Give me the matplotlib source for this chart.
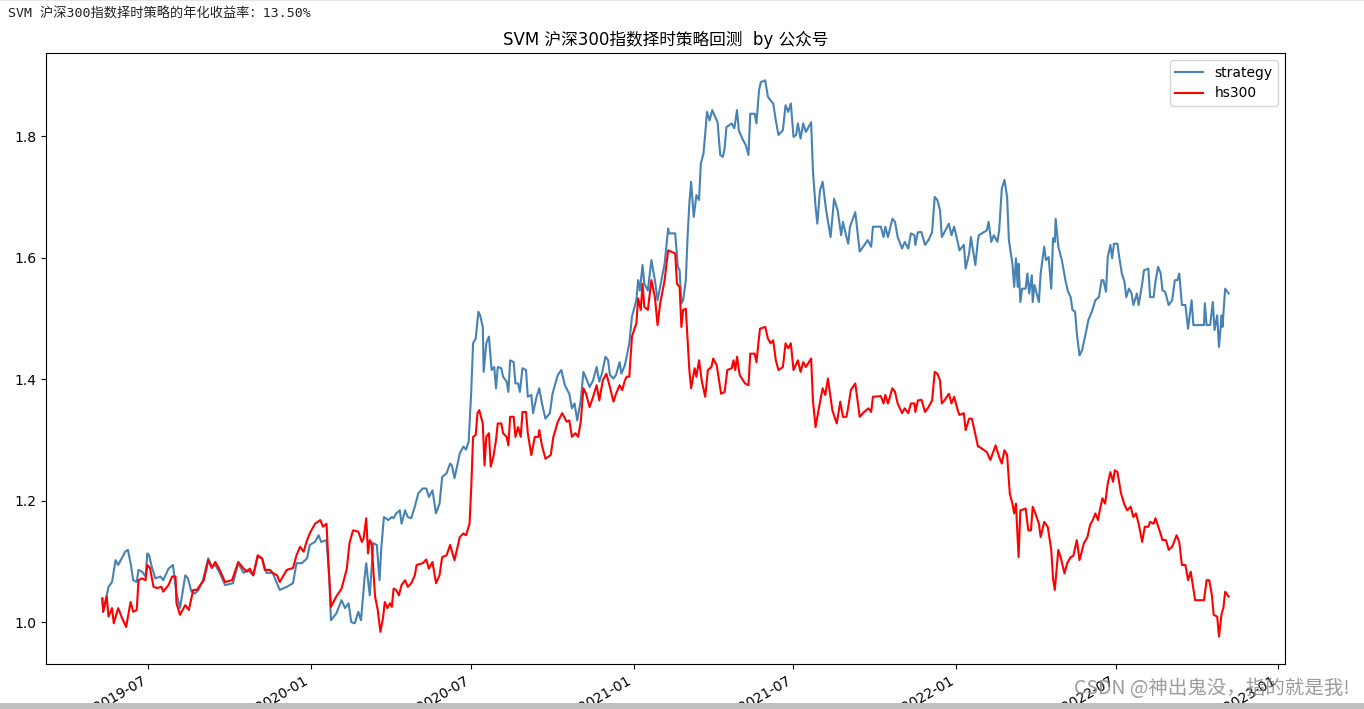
import matplotlib
matplotlib.use("Agg")
import matplotlib.pyplot as plt
import matplotlib.dates as mdates
from matplotlib.patches import Rectangle
import pandas as pd

start_date = "2019-05-10"

strategy_days = [
    0, 1, 5, 7, 11, 15, 18, 22, 26, 29,
    32, 35, 39, 41, 45, 49, 51, 53, 56, 60,
    66, 69, 75, 80, 84, 88, 94, 97, 101, 105,
    109, 114, 120, 124, 128, 133, 139, 148, 154, 160,
    165, 171, 176, 181, 186, 193, 201, 209, 216, 220,
    226, 232, 235, 241, 245, 248, 254, 257, 259, 265,
    271, 275, 279, 282, 286, 290, 293, 296, 297, 299,
    301, 303, 307, 311, 314, 316, 319, 324, 328, 330,
    333, 337, 339, 343, 346, 350, 354, 358, 363, 367,
    370, 374, 378, 382, 385, 390, 394, 396, 399, 405,
    409, 412, 415, 418, 420, 423, 426, 428, 431, 432,
    435, 438, 441, 444, 446, 448, 452, 454, 458, 460,
    462, 466, 468, 471, 473, 476, 480, 482, 486, 488,
    492, 495, 498, 502, 507, 510, 516, 520, 524, 529,
    532, 535, 538, 542, 545, 549, 552, 556, 560, 563,
    566, 570, 573, 575, 579, 582, 586, 588, 592, 594,
    597, 600, 605, 607, 609, 612, 614, 618, 622, 626,
    629, 633, 637, 641, 642, 649, 652, 654, 656, 658,
    661, 663, 665, 667, 670, 673, 676, 678, 681, 683,
    685, 688, 691, 697, 700, 703, 705, 707, 710, 713,
    716, 719, 721, 725, 729, 732, 734, 739, 741, 744,
    746, 751, 754, 757, 760, 763, 766, 771, 774, 777,
    780, 783, 786, 788, 791, 794, 797, 803, 805, 808,
    810, 813, 816, 820, 825, 829, 833, 837, 839, 843,
    845, 847, 853, 858, 862, 867, 871, 873, 882, 885,
    887, 890, 895, 898, 901, 906, 909, 913, 916, 920,
    921, 924, 928, 932, 936, 940, 943, 946, 949, 951,
    954, 959, 962, 965, 969, 971, 976, 978, 982, 984,
    989, 992, 993, 1002, 1004, 1007, 1010, 1014, 1016, 1019,
    1022, 1025, 1027, 1031, 1033, 1035, 1037, 1038, 1040, 1042,
    1046, 1048, 1050, 1053, 1054, 1056, 1061, 1063, 1067, 1069,
    1072, 1075, 1077, 1079, 1080, 1083, 1087, 1091, 1094, 1097,
    1099, 1102, 1104, 1107, 1110, 1114, 1117, 1121, 1125, 1129,
    1132, 1134, 1137, 1139, 1142, 1144, 1146, 1150, 1152, 1155,
    1158, 1160, 1163, 1166, 1168, 1172, 1174, 1178, 1180, 1185,
    1187, 1191, 1193, 1196, 1199, 1201, 1204, 1208, 1212, 1215,
    1218, 1220, 1223, 1227, 1230, 1234, 1236, 1248, 1249, 1251,
    1255, 1258, 1260, 1263, 1265, 1268, 1269, 1272, 1276,
]
strategy_values = [
    1.039, 1.017, 1.044, 1.058, 1.066, 1.102, 1.094, 1.105, 1.116, 1.119,
    1.097, 1.069, 1.066, 1.086, 1.083, 1.075, 1.113, 1.110, 1.091, 1.072,
    1.075, 1.069, 1.088, 1.094, 1.047, 1.023, 1.077, 1.072, 1.050, 1.047,
    1.053, 1.069, 1.105, 1.091, 1.094, 1.081, 1.061, 1.064, 1.097, 1.081,
    1.086, 1.077, 1.107, 1.105, 1.081, 1.081, 1.053, 1.058, 1.064, 1.097,
    1.097, 1.105, 1.127, 1.132, 1.143, 1.132, 1.135, 1.075, 1.003, 1.014,
    1.036, 1.023, 1.031, 1.000, 0.998, 1.017, 1.003, 1.053, 1.072, 1.097,
    1.069, 1.044, 1.130, 1.127, 1.069, 1.121, 1.173, 1.168, 1.173, 1.171,
    1.179, 1.184, 1.162, 1.184, 1.173, 1.171, 1.190, 1.212, 1.220, 1.220,
    1.206, 1.217, 1.179, 1.195, 1.239, 1.245, 1.261, 1.258, 1.237, 1.278,
    1.289, 1.284, 1.297, 1.382, 1.459, 1.467, 1.511, 1.505, 1.486, 1.412,
    1.459, 1.470, 1.415, 1.420, 1.385, 1.420, 1.418, 1.404, 1.396, 1.379,
    1.431, 1.428, 1.393, 1.393, 1.379, 1.418, 1.415, 1.371, 1.374, 1.344,
    1.371, 1.385, 1.360, 1.335, 1.344, 1.376, 1.407, 1.415, 1.390, 1.376,
    1.352, 1.360, 1.332, 1.365, 1.412, 1.398, 1.387, 1.398, 1.420, 1.396,
    1.409, 1.437, 1.431, 1.407, 1.401, 1.407, 1.428, 1.409, 1.423, 1.437,
    1.459, 1.503, 1.530, 1.563, 1.546, 1.588, 1.557, 1.546, 1.596, 1.563,
    1.530, 1.560, 1.590, 1.648, 1.640, 1.640, 1.585, 1.579, 1.525, 1.530,
    1.563, 1.634, 1.689, 1.725, 1.667, 1.703, 1.695, 1.755, 1.771, 1.804,
    1.840, 1.826, 1.843, 1.823, 1.769, 1.766, 1.780, 1.815, 1.818, 1.821,
    1.813, 1.843, 1.810, 1.796, 1.785, 1.769, 1.837, 1.837, 1.821, 1.876,
    1.889, 1.892, 1.865, 1.859, 1.854, 1.826, 1.802, 1.810, 1.851, 1.840,
    1.854, 1.799, 1.802, 1.821, 1.796, 1.821, 1.807, 1.823, 1.744, 1.684,
    1.656, 1.711, 1.725, 1.678, 1.634, 1.697, 1.678, 1.637, 1.659, 1.634,
    1.623, 1.651, 1.675, 1.610, 1.618, 1.629, 1.618, 1.651, 1.651, 1.634,
    1.651, 1.634, 1.664, 1.659, 1.634, 1.615, 1.626, 1.615, 1.640, 1.637,
    1.621, 1.642, 1.642, 1.621, 1.629, 1.642, 1.700, 1.695, 1.678, 1.634,
    1.642, 1.656, 1.637, 1.651, 1.626, 1.612, 1.621, 1.582, 1.607, 1.634,
    1.588, 1.629, 1.637, 1.645, 1.659, 1.626, 1.637, 1.626, 1.645, 1.714,
    1.728, 1.700, 1.629, 1.590, 1.552, 1.599, 1.552, 1.590, 1.527, 1.549,
    1.549, 1.574, 1.541, 1.571, 1.527, 1.555, 1.527, 1.574, 1.618, 1.596,
    1.601, 1.549, 1.632, 1.626, 1.664, 1.618, 1.596, 1.563, 1.544, 1.535,
    1.514, 1.511, 1.475, 1.439, 1.448, 1.475, 1.497, 1.511, 1.530, 1.535,
    1.563, 1.563, 1.544, 1.601, 1.621, 1.599, 1.623, 1.623, 1.601, 1.574,
    1.560, 1.535, 1.549, 1.541, 1.522, 1.541, 1.522, 1.557, 1.579, 1.582,
    1.535, 1.535, 1.560, 1.585, 1.574, 1.546, 1.544, 1.522, 1.530, 1.563,
    1.563, 1.574, 1.522, 1.522, 1.483, 1.530, 1.489, 1.489, 1.525, 1.489,
    1.489, 1.527, 1.481, 1.505, 1.453, 1.505, 1.486, 1.549, 1.541,
]

hs300_days = [
    0, 1, 5, 7, 11, 13, 18, 22, 27, 32,
    35, 39, 41, 45, 49, 51, 54, 58, 62, 67,
    69, 75, 79, 83, 84, 88, 94, 98, 103, 107,
    111, 115, 120, 124, 128, 133, 139, 147, 154, 160,
    164, 167, 171, 176, 181, 184, 190, 193, 198, 201,
    209, 216, 220, 224, 228, 232, 235, 241, 247, 250,
    254, 256, 259, 265, 271, 277, 280, 284, 290, 294,
    296, 299, 301, 303, 305, 309, 312, 315, 318, 320,
    323, 326, 328, 330, 333, 336, 339, 343, 346, 350,
    354, 356, 363, 367, 370, 374, 378, 382, 385, 390,
    394, 399, 405, 409, 412, 416, 418, 420, 423, 425,
    427, 429, 431, 433, 435, 438, 440, 443, 446, 448,
    452, 454, 458, 460, 462, 466, 468, 471, 474, 476,
    480, 482, 486, 490, 494, 495, 498, 502, 508, 511,
    516, 521, 526, 529, 532, 536, 539, 542, 545, 548,
    552, 556, 560, 563, 567, 571, 575, 579, 582, 586,
    589, 592, 594, 597, 600, 605, 607, 610, 612, 614,
    618, 622, 626, 629, 632, 637, 641, 649, 651, 654,
    656, 658, 661, 663, 665, 667, 671, 673, 676, 679,
    683, 686, 690, 692, 696, 701, 705, 708, 713, 715,
    717, 719, 722, 728, 732, 734, 739, 741, 745, 751,
    754, 757, 760, 763, 766, 771, 774, 777, 780, 783,
    788, 791, 794, 797, 803, 805, 808, 812, 816, 819,
    822, 827, 832, 836, 839, 843, 845, 848, 853, 858,
    863, 868, 871, 873, 882, 885, 887, 890, 895, 898,
    901, 906, 909, 913, 916, 920, 921, 924, 928, 932,
    936, 940, 943, 946, 949, 951, 954, 959, 962, 965,
    969, 971, 976, 978, 982, 985, 988, 992, 993, 1002,
    1006, 1012, 1016, 1019, 1022, 1025, 1028, 1031, 1033, 1035,
    1038, 1040, 1046, 1049, 1052, 1054, 1057, 1061, 1063, 1067,
    1071, 1075, 1077, 1079, 1081, 1083, 1086, 1090, 1093, 1097,
    1100, 1104, 1107, 1112, 1116, 1119, 1122, 1125, 1128, 1130,
    1133, 1136, 1139, 1142, 1145, 1147, 1150, 1154, 1158, 1161,
    1165, 1168, 1171, 1174, 1178, 1181, 1185, 1187, 1191, 1193,
    1197, 1201, 1205, 1208, 1212, 1217, 1220, 1223, 1227, 1230,
    1233, 1238, 1248, 1251, 1254, 1257, 1259, 1263, 1265, 1268,
    1270, 1272, 1276,
]
hs300_values = [
    1.039, 1.017, 1.042, 1.009, 1.023, 0.998, 1.023, 1.008, 0.992, 1.033,
    1.017, 1.020, 1.069, 1.072, 1.069, 1.094, 1.089, 1.058, 1.056, 1.058,
    1.050, 1.061, 1.075, 1.075, 1.031, 1.012, 1.028, 1.020, 1.053, 1.053,
    1.061, 1.069, 1.102, 1.089, 1.099, 1.086, 1.066, 1.069, 1.099, 1.088,
    1.083, 1.088, 1.077, 1.110, 1.105, 1.086, 1.086, 1.081, 1.077, 1.066,
    1.086, 1.089, 1.110, 1.124, 1.116, 1.135, 1.146, 1.162, 1.168, 1.157,
    1.162, 1.102, 1.025, 1.042, 1.055, 1.088, 1.130, 1.151, 1.149, 1.132,
    1.138, 1.171, 1.113, 1.135, 1.130, 1.042, 1.020, 0.984, 1.007, 1.033,
    1.023, 1.031, 1.025, 1.055, 1.053, 1.044, 1.061, 1.069, 1.058, 1.064,
    1.077, 1.094, 1.097, 1.103, 1.088, 1.099, 1.064, 1.077, 1.107, 1.110,
    1.127, 1.102, 1.140, 1.146, 1.143, 1.162, 1.223, 1.305, 1.308, 1.344,
    1.349, 1.338, 1.327, 1.258, 1.305, 1.311, 1.256, 1.272, 1.300, 1.327,
    1.327, 1.311, 1.305, 1.291, 1.338, 1.338, 1.305, 1.321, 1.305, 1.346,
    1.346, 1.311, 1.275, 1.305, 1.305, 1.316, 1.291, 1.269, 1.275, 1.305,
    1.330, 1.344, 1.330, 1.332, 1.305, 1.311, 1.305, 1.330, 1.385, 1.376,
    1.354, 1.371, 1.390, 1.365, 1.398, 1.409, 1.387, 1.363, 1.376, 1.390,
    1.382, 1.398, 1.404, 1.404, 1.470, 1.492, 1.533, 1.514, 1.557, 1.519,
    1.514, 1.563, 1.535, 1.489, 1.525, 1.563, 1.612, 1.607, 1.557, 1.552,
    1.486, 1.514, 1.516, 1.464, 1.415, 1.385, 1.418, 1.404, 1.431, 1.398,
    1.371, 1.415, 1.420, 1.434, 1.423, 1.376, 1.379, 1.415, 1.418, 1.431,
    1.415, 1.437, 1.407, 1.393, 1.390, 1.442, 1.442, 1.428, 1.483, 1.486,
    1.467, 1.459, 1.464, 1.431, 1.415, 1.420, 1.459, 1.451, 1.459, 1.415,
    1.431, 1.412, 1.428, 1.420, 1.434, 1.365, 1.321, 1.354, 1.385, 1.374,
    1.401, 1.349, 1.327, 1.363, 1.338, 1.338, 1.354, 1.382, 1.393, 1.338,
    1.346, 1.352, 1.346, 1.371, 1.372, 1.360, 1.374, 1.360, 1.385, 1.379,
    1.360, 1.344, 1.352, 1.344, 1.360, 1.360, 1.346, 1.365, 1.366, 1.346,
    1.354, 1.365, 1.412, 1.409, 1.398, 1.360, 1.365, 1.376, 1.360, 1.371,
    1.349, 1.341, 1.344, 1.316, 1.335, 1.335, 1.316, 1.289, 1.289, 1.280,
    1.267, 1.291, 1.272, 1.261, 1.283, 1.275, 1.212, 1.195, 1.179, 1.195,
    1.107, 1.184, 1.187, 1.151, 1.151, 1.190, 1.179, 1.162, 1.140, 1.165,
    1.157, 1.119, 1.072, 1.053, 1.086, 1.119, 1.105, 1.080, 1.097, 1.107,
    1.109, 1.135, 1.102, 1.130, 1.140, 1.160, 1.168, 1.179, 1.168, 1.184,
    1.204, 1.195, 1.228, 1.247, 1.231, 1.250, 1.247, 1.212, 1.193, 1.184,
    1.190, 1.173, 1.179, 1.162, 1.132, 1.157, 1.157, 1.165, 1.162, 1.171,
    1.154, 1.135, 1.135, 1.119, 1.124, 1.143, 1.132, 1.094, 1.094, 1.069,
    1.083, 1.036, 1.036, 1.069, 1.069, 1.044, 1.012, 1.009, 0.976, 1.014,
    1.023, 1.050, 1.042,
]

series_labels = ["strategy", "hs300"]
title_text = "SVM 沪深300指数择时策略回测  by 公众号"
header_text = "SVM 沪深300指数择时策略的年化收益率：13.50%"
watermark_text = "CSDN @神出鬼没，指的就是我!"

assert len(strategy_days) == len(strategy_values)
assert len(hs300_days) == len(hs300_values)

base = pd.Timestamp(start_date)
strategy_dates = base + pd.to_timedelta(strategy_days, unit="D")
hs300_dates = base + pd.to_timedelta(hs300_days, unit="D")

W, H = 1364, 709
fig = plt.figure(figsize=(W / 100, H / 100), dpi=100)
ax = fig.add_axes([46 / W, 1 - 664 / H, (1285 - 46) / W, (664 - 53) / H])

ax.plot(strategy_dates, strategy_values, color="steelblue", lw=1.5, label=series_labels[0])
ax.plot(hs300_dates, hs300_values, color="red", lw=1.5, label=series_labels[1])

ax.set_ylim(0.931, 1.937)
ax.set_yticks([1.0, 1.2, 1.4, 1.6, 1.8])
ax.xaxis.set_major_locator(mdates.MonthLocator(bymonth=[1, 7]))
ax.xaxis.set_major_formatter(mdates.DateFormatter("%Y-%m"))
for lab in ax.get_xticklabels():
    lab.set_rotation(30)
    lab.set_ha("right")
ax.tick_params(labelsize=10)

ax.set_title(title_text, fontsize=12, family=["DejaVu Sans", "Noto Sans CJK SC"])
ax.legend(loc="upper right", fontsize=10)

fig.text(8 / W, 1 - 14 / H, header_text, ha="left", va="center", fontsize=9.5,
         color="#222222", family=["DejaVu Sans Mono", "Noto Sans CJK SC"])

fig.text(1350 / W, 1 - 689 / H, watermark_text, ha="right", va="center", fontsize=14,
         color="#8a8a8a", alpha=0.85, family=["Noto Sans CJK SC", "DejaVu Sans"], zorder=20)

fig.patches.append(Rectangle((0, 0), 1, 6 / H, transform=fig.transFigure,
                             facecolor="#c0c0c0", edgecolor="none", zorder=30))
fig.patches.append(Rectangle((0, 1 - 1 / H), 1, 1 / H, transform=fig.transFigure,
                             facecolor="#e6e6e6", edgecolor="none", zorder=30))

fig.savefig("out.png", dpi=100)
